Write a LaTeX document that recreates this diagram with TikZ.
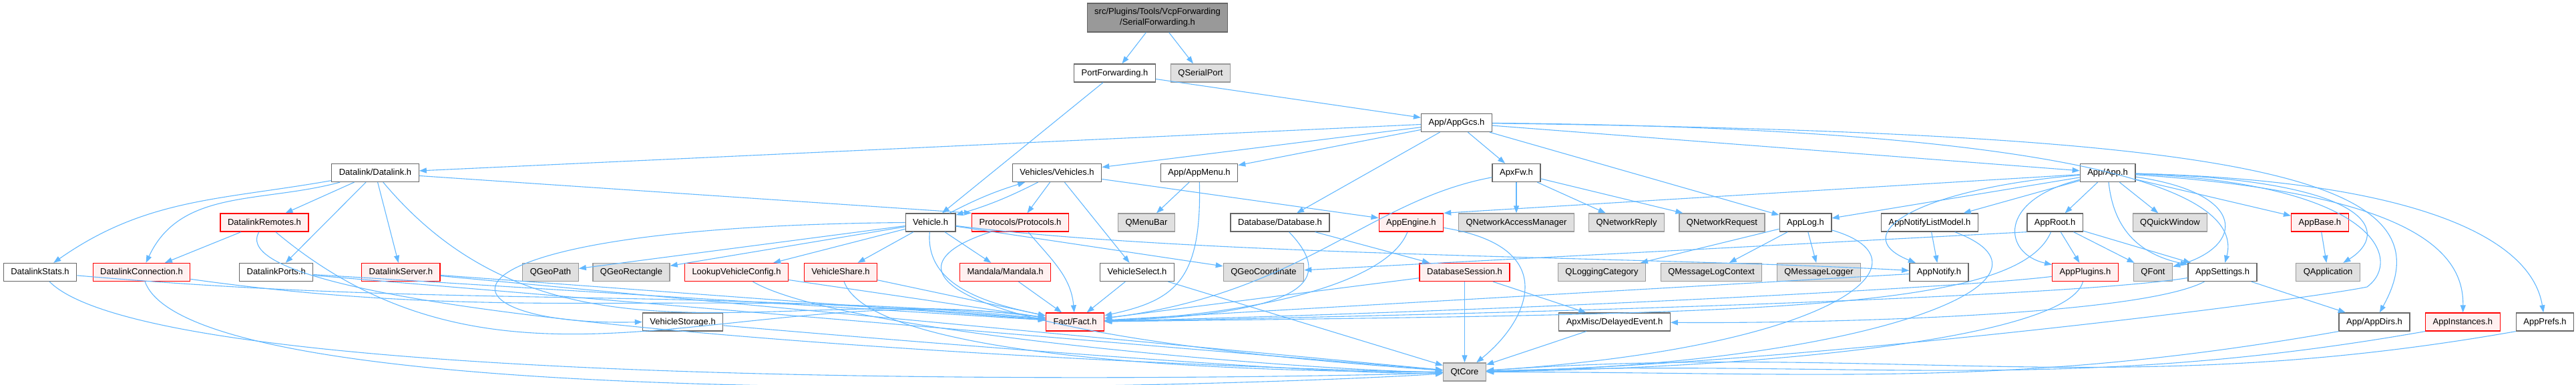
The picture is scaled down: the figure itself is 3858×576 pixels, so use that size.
\documentclass[tikz,border=0pt]{standalone}
\usepackage{fontspec}
\setmainfont{Liberation Sans}
\usetikzlibrary{arrows.meta}
\definecolor{edgeblue}{HTML}{63B8FF}
\definecolor{boxgrey}{HTML}{666666}
\definecolor{boxred}{HTML}{FF0000}
\definecolor{boxpink}{HTML}{FFF0F0}
\definecolor{extgrey}{HTML}{999999}
\definecolor{extfill}{HTML}{E0E0E0}
\definecolor{rootfill}{HTML}{999999}
\begin{document}
\begin{tikzpicture}[x=0.2pt,y=0.2pt,>={Triangle[length=2.2pt,width=1.6pt]},
  nbox/.style={draw=boxgrey,fill=white,line width=0.26pt,minimum height=5.4pt,inner xsep=2.2pt,inner ysep=0.5pt,text height=2pt,text depth=0.5pt,font=\fontsize{2.6}{3.2}\selectfont},
  rbox/.style={nbox,draw=boxred,fill=boxpink},
  qbox/.style={nbox,draw=extgrey,fill=extfill},
  rootbox/.style={draw=boxgrey,fill=rootfill,line width=0.26pt,minimum height=8.6pt,inner xsep=2.2pt,inner ysep=0.5pt,align=center,font=\fontsize{2.6}{3.2}\selectfont},
  e/.style={->,draw=edgeblue,line width=0.22pt}]
\useasboundingbox (0,0) rectangle (3858,-576);
\node[rootbox] (sf) at (1733.5,-26.5) {src/Plugins/Tools/VcpForwarding\\/SerialForwarding.h};
\node[nbox] (pf) at (1669.5,-109.5) {PortForwarding.h};
\node[qbox] (qsp) at (1798,-109.5) {QSerialPort};
\node[nbox] (gcs) at (2181.5,-184) {App/AppGcs.h};
\node[nbox] (dl) at (562,-259) {Datalink/Datalink.h};
\node[nbox] (vhs) at (1583,-259) {Vehicles/Vehicles.h};
\node[nbox] (menu) at (1796,-259) {App/AppMenu.h};
\node[nbox] (fw) at (2271,-259) {ApxFw.h};
\node[nbox] (app) at (3156.6,-259) {App/App.h};
\node[rbox] (dlr) at (396,-333.5) {DatalinkRemotes.h};
\node[nbox] (veh) at (1393.6,-333.5) {Vehicle.h};
\node[rbox] (proto) at (1528,-333.5) {Protocols/Protocols.h};
\node[qbox] (qmb) at (1717,-333.5) {QMenuBar};
\node[nbox] (db) at (1917,-333.5) {Database/Database.h};
\node[rbox] (eng) at (2113.4,-333.5) {AppEngine.h};
\node[qbox] (qnam) at (2271,-333.5) {QNetworkAccessManager};
\node[qbox] (qnrep) at (2436,-333.5) {QNetworkReply};
\node[qbox] (qnreq) at (2579,-333.5) {QNetworkRequest};
\node[nbox] (log) at (2704,-333.5) {AppLog.h};
\node[nbox] (nlm) at (2890,-333.5) {AppNotifyListModel.h};
\node[nbox] (aroot) at (3077.6,-333.5) {AppRoot.h};
\node[qbox] (qqw) at (3250,-333.5) {QQuickWindow};
\node[rbox] (base) at (3474.4,-333.5) {AppBase.h};
\node[nbox] (dls) at (60,-408) {DatalinkStats.h};
\node[rbox] (dlc) at (212,-408) {DatalinkConnection.h};
\node[nbox] (dlp) at (413.7,-408) {DatalinkPorts.h};
\node[rbox] (dlsv) at (600.4,-408) {DatalinkServer.h};
\node[qbox] (qgp) at (824.5,-408) {QGeoPath};
\node[qbox] (qgr) at (945.5,-408) {QGeoRectangle};
\node[rbox] (lvc) at (1103,-408) {LookupVehicleConfig.h};
\node[rbox] (vsh) at (1259,-408) {VehicleShare.h};
\node[rbox] (mand) at (1505.6,-408) {Mandala/Mandala.h};
\node[nbox] (vsel) at (1703,-408) {VehicleSelect.h};
\node[qbox] (qgc) at (1892.5,-408) {QGeoCoordinate};
\node[rbox] (dbs) at (2193.5,-408) {DatabaseSession.h};
\node[qbox] (qlc) at (2399,-408) {QLoggingCategory};
\node[qbox] (qmlc) at (2563,-408) {QMessageLogContext};
\node[qbox] (qml) at (2724,-408) {QMessageLogger};
\node[nbox] (notify) at (2904,-408) {AppNotify.h};
\node[rbox] (plug) at (3123,-408) {AppPlugins.h};
\node[qbox] (qfont) at (3224.5,-408) {QFont};
\node[nbox] (set) at (3328.6,-408) {AppSettings.h};
\node[qbox] (qapp) at (3486.6,-408) {QApplication};
\node[nbox] (vst) at (1022.6,-482.5) {VehicleStorage.h};
\node[rbox] (fact) at (1610,-482.5) {Fact/Fact.h};
\node[nbox] (dev) at (2418,-482.5) {ApxMisc/DelayedEvent.h};
\node[nbox] (dirs) at (3556,-482.5) {App/AppDirs.h};
\node[rbox] (inst) at (3688.4,-482.5) {AppInstances.h};
\node[nbox] (prefs) at (3811.5,-482.5) {AppPrefs.h};
\node[qbox] (qtc) at (2193.5,-557.5) {QtCore};
\draw[e] (sf) -- (pf);
\draw[e] (sf) -- (qsp);
\draw[e] (pf) -- (gcs);
\draw[e] (pf) -- (veh);
\draw[e] (gcs) -- (dl);
\draw[e] (gcs) -- (vhs);
\draw[e] (gcs) -- (menu);
\draw[e] (gcs) -- (db);
\draw[e] (gcs) -- (fw);
\draw[e] (gcs) -- (app);
\draw[e] (gcs) -- (log);
\draw[e] (gcs) .. controls (2900,-190) and (3370,-250) .. (set);
\draw[e] (gcs) .. controls (3350,-200) and (3680,-260) .. (dirs);
\draw[e] (dl) to[out=190,in=35] (dls);
\draw[e] (dl) to[out=195,in=65] (dlc);
\draw[e] (dl) -- (dlr);
\draw[e] (dl) -- (dlp);
\draw[e] (dl) -- (dlsv);
\draw[e] (dl) to[out=-50,in=172] (fact);
\draw[e] (dl) -- (proto.north west);
\draw[e] (dlr) -- (dlc);
\draw[e] (dlr) to[out=-40,in=172] (fact);
\draw[e] (dlr) to[out=-120,in=180,looseness=.25] (qtc);
\draw[e] (dls) to[out=-5,in=175] (fact);
\draw[e] (dls) to[out=-45,in=182,looseness=.3] (qtc);
\draw[e] (dlc) to[out=-8,in=174] (fact);
\draw[e] (dlc) to[out=-70,in=184,looseness=.3] (qtc);
\draw[e] (dlp) -- (fact);
\draw[e] (dlp) -- (qtc);
\draw[e] (dlsv) -- (fact);
\draw[e] (dlsv) -- (qtc);
\draw[e] (vhs) to[bend left=5] (veh);
\draw[e] (veh) to[bend left=5] (vhs);
\draw[e] (vhs) -- (proto);
\draw[e] (vhs) -- (vsel);
\draw[e] (vhs) -- (eng);
\draw[e] (veh) -- (qgp);
\draw[e] (veh) -- (qgr);
\draw[e] (veh) -- (lvc);
\draw[e] (veh) -- (vsh);
\draw[e] (veh) -- (mand);
\draw[e] (veh) to[out=-95,in=168] (fact);
\draw[e] (veh) -- (qgc);
\draw[e] (veh.west) .. controls (600,-340) and (640,-490) .. (vst.west);
\draw[e] (veh) .. controls (1800,-385) and (2500,-385) .. (notify);
\draw[e] (proto) to[out=-50,in=95] (fact);
\draw[e] (proto) .. controls (1320,-400) and (1380,-500) .. (qtc);
\draw[e] (menu) -- (qmb);
\draw[e] (menu) .. controls (1800,-420) and (1760,-450) .. (fact);
\draw[e] (fw) -- (qnam);
\draw[e] (fw) -- (qnrep);
\draw[e] (fw) -- (qnreq);
\draw[e] (fw) .. controls (2050,-300) and (1950,-440) .. (fact);
\draw[e] (db) -- (dbs);
\draw[e] (db) .. controls (2000,-420) and (1960,-470) .. (fact);
\draw[e] (eng) .. controls (2080,-420) and (1900,-470) .. (fact);
\draw[e] (eng) .. controls (2340,-370) and (2290,-480) .. (qtc);
\draw[e] (dbs) -- (qtc);
\draw[e] (dbs) -- (dev);
\draw[e] (dbs) -- (fact);
\draw[e] (dev) -- (qtc);
\draw[e] (app) -- (eng.north east);
\draw[e] (app) -- (log);
\draw[e] (app) -- (nlm);
\draw[e] (app) .. controls (2880,-282) and (2760,-350) .. (notify);
\draw[e] (app) -- (aroot);
\draw[e] (app) .. controls (2990,-300) and (3000,-380) .. (plug);
\draw[e] (app) .. controls (3370,-290) and (3360,-370) .. (qfont);
\draw[e] (app) .. controls (3165,-340) and (3200,-380) .. (set);
\draw[e] (app) -- (qqw);
\draw[e] (app) -- (base);
\draw[e] (app) .. controls (3560,-270) and (3580,-350) .. (qapp);
\draw[e] (app) .. controls (3560,-275) and (3600,-390) .. (3545,-430) .. controls (3450,-450) and (2700,-545) .. (qtc);
\draw[e] (app) .. controls (3620,-290) and (3690,-380) .. (inst);
\draw[e] (app) .. controls (3600,-270) and (3790,-350) .. (prefs);
\draw[e] (aroot) -- (plug);
\draw[e] (aroot) -- (qfont);
\draw[e] (aroot) -- (set);
\draw[e] (aroot) .. controls (3020,-470) and (2600,-470) .. (fact);
\draw[e] (aroot.south west) -- (qgc);
\draw[e] (log) -- (qlc);
\draw[e] (log) -- (qmlc);
\draw[e] (log) -- (qml);
\draw[e] (log) .. controls (2900,-390) and (2760,-520) .. (qtc);
\draw[e] (nlm) -- (notify);
\draw[e] (nlm) .. controls (3120,-420) and (2800,-545) .. (qtc);
\draw[e] (notify) -- (fact);
\draw[e] (plug) .. controls (2950,-430) and (2300,-465) .. (fact);
\draw[e] (plug) .. controls (3100,-500) and (2700,-550) .. (qtc);
\draw[e] (set) .. controls (3100,-445) and (2300,-470) .. (fact);
\draw[e] (set) .. controls (3200,-475) and (2700,-485) .. (dev);
\draw[e] (set) -- (dirs);
\draw[e] (base) -- (qapp);
\draw[e] (dirs.south west) to[out=190,in=0] (qtc);
\draw[e] (inst.south west) to[out=190,in=2] (qtc);
\draw[e] (prefs.south west) to[out=190,in=4] (qtc);
\draw[e] (lvc) -- (fact);
\draw[e] (lvc) to[out=-30,in=180,looseness=.4] (qtc);
\draw[e] (vsh) -- (fact);
\draw[e] (vsh) to[out=-70,in=180,looseness=.4] (qtc);
\draw[e] (vst) to[out=-5,in=182,looseness=.4] (qtc);
\draw[e] (mand) -- (fact);
\draw[e] (vsel) -- (fact);
\draw[e] (vsel) -- (qtc);
\end{tikzpicture}
\end{document}
